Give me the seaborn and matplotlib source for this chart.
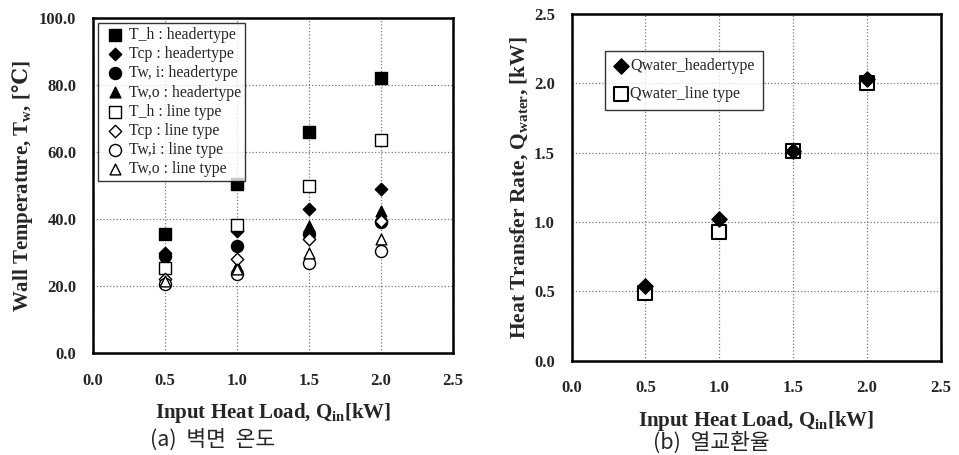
import matplotlib
matplotlib.use("Agg")
import matplotlib.pyplot as plt
import seaborn as sns

# data
load = [0.5, 1.0, 1.5, 2.0]

th_header = [35.5, 50.4, 66.0, 82.1]
tcp_header = [30.0, 36.5, 43.0, 49.0]
twi_header = [29.0, 32.0, 35.5, 39.0]
two_header = [28.0, 26.0, 38.0, 42.5]
th_line = [25.4, 38.1, 50.0, 63.5]
tcp_line = [22.0, 28.0, 34.0, 39.5]
twi_line = [20.5, 23.5, 27.0, 30.5]
two_line = [21.5, 25.0, 30.0, 34.0]

q_header = [0.54, 1.02, 1.51, 2.03]
q_line = [0.49, 0.93, 1.51, 2.00]

sns.set_style('white')
plt.rcParams['font.family'] = ['Liberation Serif', 'DejaVu Serif']
plt.rcParams['mathtext.fontset'] = 'custom'
plt.rcParams['mathtext.it'] = 'Liberation Serif:bold'
plt.rcParams['mathtext.rm'] = 'Liberation Serif'
plt.rcParams['mathtext.bf'] = 'DejaVu Serif:bold'

fig = plt.figure(figsize=(9.59, 4.55), dpi=100)
ax1 = fig.add_axes([0.097, 0.224, 0.375, 0.736])
ax2 = fig.add_axes([0.596, 0.207, 0.385, 0.762])

# left panel: wall temperature
series = [
    (th_header, 's', 'black', 'T_h : headertype', 80),
    (tcp_header, 'D', 'black', 'Tcp : headertype', 40),
    (twi_header, 'o', 'black', 'Tw, i: headertype', 75),
    (two_header, '^', 'black', 'Tw,o : headertype', 60),
    (th_line, 's', 'white', 'T_h : line type', 80),
    (tcp_line, 'D', 'white', 'Tcp : line type', 40),
    (twi_line, 'o', 'white', 'Tw,i : line type', 75),
    (two_line, '^', 'white', 'Tw,o : line type', 60),
]
for vals, mk, fc, lab, sz in series:
    sns.scatterplot(x=load, y=vals, marker=mk, s=sz, color=fc, edgecolor='black',
                    linewidth=1.0, label=lab, ax=ax1, zorder=3)

# right panel: heat transfer rate
sns.scatterplot(x=load, y=q_header, marker='D', s=60, color='black', edgecolor='black',
                linewidth=1.0, label='Qwater_headertype', ax=ax2, zorder=4)
sns.scatterplot(x=load, y=q_line, marker='s', s=105, color='white', edgecolor='black',
                linewidth=1.5, label='Qwater_line type', ax=ax2, zorder=3)

for ax in (ax1, ax2):
    ax.set_xlim(0, 2.5)
    ax.set_xticks([0.0, 0.5, 1.0, 1.5, 2.0, 2.5])
    ax.set_xticklabels(['%.1f' % v for v in [0.0, 0.5, 1.0, 1.5, 2.0, 2.5]])
    ax.grid(True, color='#777777', linestyle=':', linewidth=0.9)
    ax.set_axisbelow(True)
    for sp in ax.spines.values():
        sp.set_color('black')
        sp.set_linewidth(1.8)
    ax.tick_params(axis='both', length=0, pad=12, labelsize=12)
    ax.tick_params(axis='x', pad=14)
    for t in ax.get_xticklabels() + ax.get_yticklabels():
        t.set_fontweight('bold')
    ax.set_xlabel('Input Heat Load, Q$_{\\mathit{in}}$[kW]', fontsize=15,
                  fontweight='bold', labelpad=9)

ax1.set_ylim(0, 100)
ax1.set_yticks([0, 20, 40, 60, 80, 100])
ax1.set_yticklabels(['%.1f' % v for v in [0, 20, 40, 60, 80, 100]], fontweight='bold')
ax1.set_ylabel('Wall Temperature, T$_{\\mathit{w}}$, [$\\mathbf{℃}$]', fontsize=15,
               fontweight='bold', labelpad=3)

ax2.set_ylim(0, 2.5)
ax2.set_yticks([0, 0.5, 1.0, 1.5, 2.0, 2.5])
ax2.set_yticklabels(['%.1f' % v for v in [0, 0.5, 1.0, 1.5, 2.0, 2.5]], fontweight='bold')
ax2.set_ylabel('Heat Transfer Rate, Q$_{\\mathit{water}}$, [kW]', fontsize=15.5,
               fontweight='bold', labelpad=3)

leg1 = ax1.legend(loc='upper left', bbox_to_anchor=(0.014, 0.985), fontsize=11.3,
                  frameon=True, fancybox=False, edgecolor='black', handletextpad=0.1,
                  labelspacing=0.2, borderpad=0.25, handlelength=1.6, borderaxespad=0)
leg1.get_frame().set_linewidth(1.0)
leg2 = ax2.legend(loc='upper left', bbox_to_anchor=(0.09, 0.895), fontsize=11.5,
                  frameon=True, fancybox=False, edgecolor='black', handletextpad=0.1,
                  labelspacing=0.75, borderpad=0.5, handlelength=1.0, borderaxespad=0)
leg2.get_frame().set_linewidth(1.0)

kfont = ['Noto Sans CJK KR', 'DejaVu Sans']
fig.text(0.156, 0.034, '(a)  벽면  온도', fontsize=15.5, family=kfont, va='center')
fig.text(0.681, 0.028, '(b)  열교환율', fontsize=15.5, family=kfont, va='center')

fig.savefig('out.png', dpi=100)
